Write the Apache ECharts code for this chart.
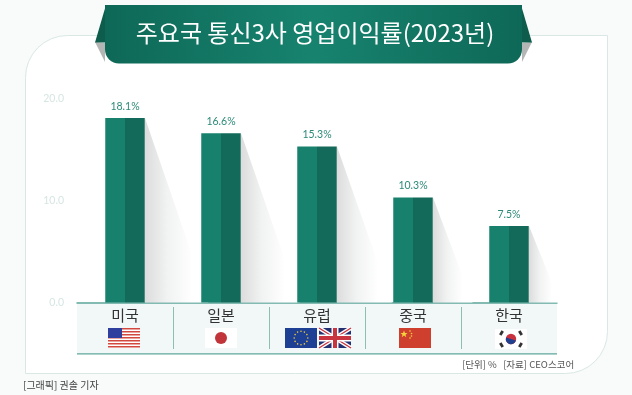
<!DOCTYPE html>
<html><head><meta charset="utf-8">
<style>html,body{margin:0;padding:0;background:#f9fbfb}#c{width:632px;height:395px}</style>
<script src="https://cdn.jsdelivr.net/npm/echarts@6/dist/echarts.min.js"></script>
</head><body><div id="c"></div>
<script>
const categories = ['미국','일본','유럽','중국','한국'];
const margins = [18.1,16.6,15.3,10.3,7.5];
const yTicks = [0,10,20];
const chartTitle = '주요국 통신3사 영업이익률(2023년)';
const sourceNote = '[단위] %   [자료] CEO스코어';
const creditNote = '[그래픽] 권솔 기자';
const KR = '"Noto Sans CJK KR","Noto Sans",sans-serif';
const G = echarts.graphic;
const hGrad = (stops)=>new G.LinearGradient(0,0,1,0,stops.map((c,i)=>({offset:c[0],color:c[1]})));

function rect(x,y,w,h,fill,z,extra){return Object.assign({type:'rect',silent:true,z:z||1,shape:{x,y,width:w,height:h},style:{fill}},extra||{});}
function poly(points,fill,z){return {type:'polygon',silent:true,z:z||1,shape:{points},style:{fill}};}
function circ(cx,cy,r,fill,z){return {type:'circle',silent:true,z:z||5,shape:{cx,cy,r},style:{fill}};}
function seg(x1,y1,x2,y2,stroke,w,z){return {type:'line',silent:true,z:z||5,shape:{x1,y1,x2,y2},style:{stroke,lineWidth:w}};}

function usFlag(x,y){
  const o=[rect(x,y,32,20,'#fff',5)];
  for(let i=0;i<7;i++) o.push(rect(x,y+i*3,32,1.5,'#d2483f',5));
  o.push(rect(x,y,14,10,'#2f3f9e',6));
  return o;
}
function jpFlag(x,y){return [rect(x,y,32,20,'#fff',5),circ(x+16,y+10,6,'#c0343a',6)];}
function euFlag(x,y){
  const o=[rect(x,y,32,20,'#1d3f94',5)];
  for(let i=0;i<12;i++){const a=i*Math.PI/6;o.push(circ(x+16+6.8*Math.cos(a),y+10+6.8*Math.sin(a),.8,'#e8c93a',6));}
  return o;
}
function ukFlag(x,y){
  return [rect(x,y,32,20,'#24306f',5),
    seg(x,y,x+32,y+20,'#fff',4,6),seg(x+32,y,x,y+20,'#fff',4,6),
    seg(x,y,x+32,y+20,'#c8343f',1.4,6),seg(x+32,y,x,y+20,'#c8343f',1.4,6),
    rect(x+12.5,y,7,20,'#fff',7),rect(x,y+6.5,32,7,'#fff',7),
    rect(x+14,y,4,20,'#c8343f',8),rect(x,y+8,32,4,'#c8343f',8)];
}
function cnFlag(x,y){
  return [rect(x,y,32,20,'#cf3f2e',5),
    {type:'polygon',silent:true,z:6,shape:{points:[[x+5,y+2.5],[x+6,y+5],[x+8.5,y+5],[x+6.5,y+6.7],[x+7.3,y+9.2],[x+5,y+7.6],[x+2.7,y+9.2],[x+3.5,y+6.7],[x+1.5,y+5],[x+4,y+5]]},style:{fill:'#f3d23c'}},
    circ(x+11,y+3,.8,'#f3d23c',6),circ(x+12.5,y+5.5,.8,'#f3d23c',6),circ(x+12.5,y+8,.8,'#f3d23c',6),circ(x+11,y+10,.8,'#f3d23c',6)];
}
function krFlag(x,y){
  const cx=x+16,cy=y+10;
  const o=[rect(x,y,32,20,'#fff',5),circ(cx,cy,5.2,'#c9313d',6),
    {type:'sector',silent:true,z:7,shape:{cx,cy,r:5.2,startAngle:0.3,endAngle:0.3+Math.PI},style:{fill:'#1f3f8f'}}];
  [[-9.5,-6],[9.5,-6],[-9.5,6],[9.5,6]].forEach(p=>{
    const a=Math.atan2(p[1],p[0])+Math.PI/2;
    o.push({type:'line',silent:true,z:6,shape:{x1:cx+p[0]-2.3*Math.cos(a),y1:cy+p[1]-2.3*Math.sin(a),x2:cx+p[0]+2.3*Math.cos(a),y2:cy+p[1]+2.3*Math.sin(a)},style:{stroke:'#333',lineWidth:2.8}});
  });
  return o;
}

const decor = [
  {type:'rect',silent:true,z:-10,shape:{x:25.5,y:35.5,width:582,height:338,r:[42,0,42,0]},style:{fill:'#fff',stroke:'#d9e8e5',lineWidth:1}},
  rect(77,302,480,52,'#f2f8f8',-5),
  rect(77,353.2,480,1.4,'#5fa79c',-4),
  poly([[95,42],[105,43],[105,62]],'#b4b6b6',1),
  poly([[532,42],[522,43],[522,62]],'#b4b6b6',1),
  poly([[106,5],[95,42.5],[108,42.5]],'#0d5c4c',2),
  poly([[521,5],[532,42.5],[519,42.5]],'#0d5c4c',2),
  {type:'rect',silent:true,z:3,shape:{x:105,y:5,width:417,height:58.5,r:[0,0,14,14]},
    style:{fill:hGrad([[0,'#0e6857'],[.5,'#17836f'],[1,'#0e6857']])}}
];
[173,269,365,461].forEach(x=>decor.push(seg(x+.5,307,x+.5,349,'#8fbdb6',1,-3)));
const flags = [].concat(usFlag(108,328),jpFlag(205,328),euFlag(285,328),ukFlag(319,328),cnFlag(399,328),krFlag(495,329));

const option = {
  animation:false,
  backgroundColor:'#f9fbfb',
  title:[
    {text:chartTitle,left:310,top:16,textAlign:'center',z:10,textStyle:{color:'#fff',fontFamily:KR,fontSize:24,fontWeight:400}},
    {text:sourceNote,left:457,top:355,textStyle:{color:'#555',fontFamily:KR,fontSize:9.5,fontWeight:400}},
    {text:creditNote,left:18,top:375,textStyle:{color:'#444',fontFamily:KR,fontSize:10,fontWeight:400}}
  ],
  grid:{left:77,width:480,top:98.5,bottom:92.5,containLabel:false},
  xAxis:{type:'category',data:categories,
    axisTick:{show:false},
    axisLine:{lineStyle:{color:'#5fa79c',width:1.5}},
    axisLabel:{color:'#333',fontFamily:KR,fontSize:15,margin:5.5}},
  yAxis:{type:'value',min:yTicks[0],max:yTicks[2],interval:yTicks[1],
    splitLine:{show:false},axisLine:{show:false},axisTick:{show:false},
    axisLabel:{color:'#d6e6e3',fontFamily:'Lato,sans-serif',fontSize:10.5,margin:13,formatter:v=>v.toFixed(1)}},
  series:[
    {type:'custom',z:1,silent:true,data:margins.map((v,i)=>[i,v]),
      renderItem(params,api){
        const top=api.coord([api.value(0),api.value(1)]);
        const base=api.coord([api.value(0),0]);
        const x=top[0]+20, len=(base[1]-top[1])*0.3+8;
        return {type:'polygon',shape:{points:[[x,top[1]],[x+len,base[1]],[x,base[1]]]},
          style:{fill:new G.LinearGradient(0,0,1,0,[{offset:0,color:'#dcdcdc'},{offset:.35,color:'#f1f2f2'},{offset:.75,color:'#ffffff'},{offset:1,color:'#ffffff'}])}};
      }},
    {type:'bar',z:2,data:margins,barWidth:39.5,
      itemStyle:{color:new G.LinearGradient(0,0,1,0,[{offset:0,color:'#17816d'},{offset:.5,color:'#17816d'},{offset:.5,color:'#136a5a'},{offset:1,color:'#136a5a'}])},
      label:{show:true,position:'top',distance:6,color:'#2c8a78',fontFamily:'Lato,sans-serif',fontSize:10.5,formatter:p=>p.value.toFixed(1)+'%'}}
  ],
  graphic:{elements:decor.concat(flags)}
};
echarts.init(document.getElementById('c'),null,{renderer:'canvas'}).setOption(option);
</script></body></html>
